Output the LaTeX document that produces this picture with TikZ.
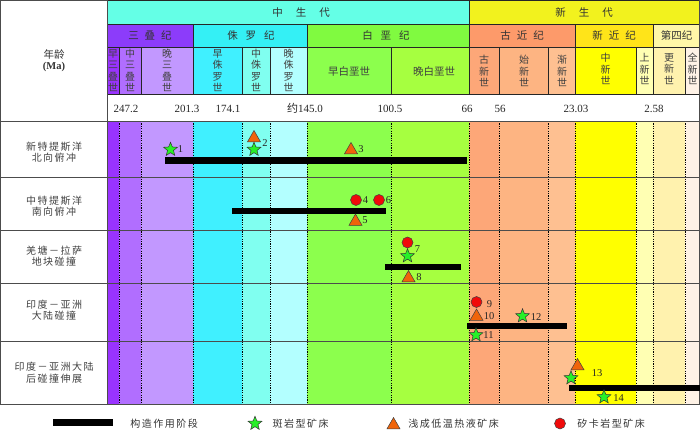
\documentclass[tikz,border=0pt]{standalone}
\usepackage{fontspec}
\setmainfont{Liberation Serif}
\newfontfamily\cjk{Noto Sans CJK SC}
\newfontfamily\cjkls[LetterSpace=15]{Noto Sans CJK SC}
\usetikzlibrary{shapes.geometric}
\definecolor{eraM}{RGB}{100,255,230}
\definecolor{eraC}{RGB}{242,242,30}
\definecolor{perT}{RGB}{140,60,250}
\definecolor{perJ}{RGB}{52,240,245}
\definecolor{perK}{RGB}{128,250,64}
\definecolor{perPg}{RGB}{253,154,106}
\definecolor{perNg}{RGB}{255,228,25}
\definecolor{perQ}{RGB}{255,247,168}
\definecolor{eT1}{RGB}{153,51,255}
\definecolor{eT2}{RGB}{177,110,255}
\definecolor{eT3}{RGB}{194,152,255}
\definecolor{eJ1}{RGB}{64,240,255}
\definecolor{eJ2}{RGB}{128,255,240}
\definecolor{eJ3}{RGB}{179,255,255}
\definecolor{eK1}{RGB}{140,255,77}
\definecolor{eK2}{RGB}{166,255,64}
\definecolor{ePg1}{RGB}{253,167,120}
\definecolor{ePg2}{RGB}{253,180,130}
\definecolor{ePg3}{RGB}{254,192,145}
\definecolor{eN1}{RGB}{255,255,0}
\definecolor{eN2}{RGB}{255,255,179}
\definecolor{eQ1}{RGB}{255,242,174}
\definecolor{eQ2}{RGB}{254,242,230}
\definecolor{stargreen}{RGB}{40,240,40}
\definecolor{triorange}{RGB}{240,100,10}
\definecolor{dotred}{RGB}{240,10,10}
\begin{document}
\begin{tikzpicture}[x=1pt,y=-1pt,
  hdr/.style={draw=black!85, line width=0.8pt},
  rowline/.style={draw=black!70, line width=0.9pt},
  dotline/.style={draw=black, line width=0.5pt, dash pattern=on 1.2pt off 1.2pt},
  eratxt/.style={font=\cjk\fontsize{10.5}{12}\selectfont, inner sep=0pt, text=black!80},
  vtxt/.style={font=\cjk\fontsize{10}{11.3}\selectfont, align=center, inner sep=0pt, text=black!75},
  htxt/.style={font=\cjk\fontsize{10.5}{12}\selectfont, inner sep=0pt, text=black!75},
  num/.style={font=\fontsize{11}{13}\selectfont, inner sep=0pt, text=black!85},
  rowlbl/.style={font=\cjkls\fontsize{10}{11.5}\selectfont, align=center, inner sep=0pt, text=black!75},
  legtxt/.style={font=\cjkls\fontsize{10}{12}\selectfont, inner sep=0pt, text=black!80},
  lbl/.style={font=\fontsize{10.5}{12}\selectfont, inner sep=0pt, text=black!85},
  stary/.style={star, star points=5, star point ratio=2.3, minimum size=14.5pt, inner sep=0pt, draw=black!80, line width=0.5pt, fill=stargreen},
  tri/.style={regular polygon, regular polygon sides=3, minimum size=15pt, inner sep=0pt, draw=black!75, line width=0.5pt, fill=triorange},
  circ/.style={circle, minimum size=11pt, inner sep=0pt, draw=black!75, line width=0.5pt, fill=dotred},
  bar/.style={fill=black}]
\useasboundingbox (0,0) rectangle (700,431);
% body fills and header epoch cells
\foreach \a/\b/\c in {107/119/eT1,119/141/eT2,141/193/eT3,193/242/eJ1,242/270/eJ2,270/307/eJ3,307/391/eK1,391/469/eK2,469/499/ePg1,499/548/ePg2,548/575/ePg3,575/636/eN1,636/653/eN2,653/685/eQ1,685/700/eQ2}{
  \fill[\c] (\a,121) rectangle (\b,404);
  \draw[hdr, fill=\c] (\a,47) rectangle (\b,94);
}
% periods
\draw[hdr, fill=perT] (107,24) rectangle (193,47);
\draw[hdr, fill=perJ] (193,24) rectangle (307,47);
\draw[hdr, fill=perK] (307,24) rectangle (469,47);
\draw[hdr, fill=perPg] (469,24) rectangle (575,47);
\draw[hdr, fill=perNg] (575,24) rectangle (653,47);
\draw[hdr, fill=perQ] (653,24) rectangle (700,47);
% eras
\draw[hdr, fill=eraM] (107,0.5) rectangle (469,24);
\draw[hdr, fill=eraC] (469,0.5) rectangle (699.5,24);
% dotted boundaries
\foreach \x in {119,141,193,242,270,307,391,469,499,548,575,636,653,685}
  \draw[dotline] (\x,121) -- (\x,404);
% frame
\foreach \y in {121,177,230,283,341,404}
  \draw[rowline] (0,\y) -- (700,\y);
\draw[rowline] (0.5,0.5) -- (0.5,404);
\draw[rowline] (107,0) -- (107,404);
\draw[rowline] (0,0.5) -- (107,0.5);
\draw[rowline] (699.5,0) -- (699.5,404);
% header text
\node[eratxt] (era1) at (301,12.5) {中\hspace{13pt}生\hspace{13pt}代};
\node[eratxt] (era2) at (584,12.5) {新\hspace{13pt}生\hspace{13pt}代};
\node[eratxt] (p1) at (150,35.5) {三\hspace{6pt}叠\hspace{6pt}纪};
\node[eratxt] (p2) at (251,35.5) {侏\hspace{8pt}罗\hspace{8pt}纪};
\node[eratxt] (p3) at (386,35.5) {白\hspace{8pt}垩\hspace{8pt}纪};
\node[eratxt] (p4) at (522,35.5) {古\hspace{6pt}近\hspace{6pt}纪};
\node[eratxt] (p5) at (614,35.5) {新\hspace{6pt}近\hspace{6pt}纪};
\node[eratxt] (p6) at (676.5,35.5) {第四纪};
\node[vtxt] (e1) at (113,70.5) {早\\三\\叠\\世};
\node[vtxt] (e2) at (130,70.5) {中\\三\\叠\\世};
\node[vtxt] (e3) at (167,70.5) {晚\\三\\叠\\世};
\node[vtxt] (e4) at (217.5,70.5) {早\\侏\\罗\\世};
\node[vtxt] (e5) at (256,70.5) {中\\侏\\罗\\世};
\node[vtxt] (e6) at (288.5,70.5) {晚\\侏\\罗\\世};
\node[htxt] (e7) at (349,71.5) {早白垩世};
\node[htxt] (e8) at (434,71.5) {晚白垩世};
\node[vtxt] (e9) at (484,71) {古\\新\\世};
\node[vtxt] (e10) at (524,71) {始\\新\\世};
\node[vtxt] (e11) at (562,71) {渐\\新\\世};
\node[vtxt] (e12) at (605.5,69) {中\\新\\世};
\node[vtxt] (e13) at (644.5,69) {上\\新\\世};
\node[vtxt] (e14) at (669,69) {更\\新\\世};
\node[vtxt] (e15) at (692.5,69) {全\\新\\世};
\node[font=\cjk\fontsize{10.5}{12}\selectfont, align=center, inner sep=0pt, text=black!80] (age) at (54,54) {年龄};
\node[font=\bfseries\fontsize{10.5}{12}\selectfont, inner sep=0pt, text=black!80] (ma) at (54,67) {(Ma)};
% age numbers
\node[num] (n1) at (126,108.5) {247.2};
\node[num] (n2) at (187,108.5) {201.3};
\node[num] (n3) at (228,108.5) {174.1};
\node[num] (n4) at (305,108.5) {{\cjk 约}145.0};
\node[num] (n5) at (390,108.5) {100.5};
\node[num] (n6) at (467,108.5) {66};
\node[num] (n7) at (500,108.5) {56};
\node[num] (n8) at (576,108.5) {23.03};
\node[num] (n9) at (654,108.5) {2.58};
% row labels
\node[rowlbl] (r1) at (54,152) {新特提斯洋\\北向俯冲};
\node[rowlbl] (r2) at (54,206) {中特提斯洋\\南向俯冲};
\node[rowlbl] (r3) at (54,256) {羌塘－拉萨\\地块碰撞};
\node[rowlbl] (r4) at (54,310) {印度－亚洲\\大陆碰撞};
\node[rowlbl] (r5) at (54,372.5) {印度－亚洲大陆\\后碰撞伸展};
% bars
\fill[bar] (165,157) rectangle (467,163.5);
\fill[bar] (231.5,207.5) rectangle (385.5,214);
\fill[bar] (385,263.5) rectangle (460.5,269.5);
\fill[bar] (466.5,322.5) rectangle (567,329);
\fill[bar] (569,384.5) rectangle (700,391);
% row 1
\node[stary] (s1) at (170.5,149.5) {};
\node[lbl] (t1) at (180.5,149.5) {1};
\node[tri] (g2) at (254,138) {};
\node[stary] (s2) at (254,149.5) {};
\node[lbl] (t2) at (265,143.5) {2};
\node[tri] (g3) at (351,150) {};
\node[lbl] (t3) at (361,149) {3};
% row 2
\node[circ] (c4) at (356,200) {};
\node[lbl] (t4) at (365.5,200) {4};
\node[circ] (c6) at (379,200) {};
\node[lbl] (t6) at (388.5,200) {6};
\node[tri] (g5) at (355.5,221.5) {};
\node[lbl] (t5) at (365,220.5) {5};
% row 3
\node[circ] (c7) at (407.5,242.5) {};
\node[lbl] (t7) at (417.5,249) {7};
\node[stary] (s7) at (407.5,256) {};
\node[tri] (g8) at (408.5,278) {};
\node[lbl] (t8) at (419,277.5) {8};
% row 4
\node[circ] (c9) at (476.5,302) {};
\node[lbl] (t9) at (489.5,304) {9};
\node[tri] (g10) at (476.5,316.5) {};
\node[lbl] (t10) at (489,316) {10};
\node[stary] (s11) at (476,335) {};
\node[lbl] (t11) at (488.5,335.5) {11};
\node[stary] (s12) at (522.5,316) {};
\node[lbl] (t12) at (536,317.5) {12};
% row 5
\node[tri] (g13) at (577.5,366) {};
\node[lbl] (t13) at (597,373.5) {13};
\node[stary] (s13) at (571,378) {};
\node[stary] (s14) at (604,397) {};
\node[lbl] (t14) at (618.5,398.5) {14};
% legend
\fill[bar] (53,419) rectangle (113,425.5);
\node[legtxt] (l1) at (164,423.5) {构造作用阶段};
\node[stary] (ls) at (255,423.5) {};
\node[legtxt] (l2) at (300.5,423.5) {斑岩型矿床};
\node[tri] (lt) at (393.5,425) {};
\node[legtxt] (l3) at (453.5,423.5) {浅成低温热液矿床};
\node[circ] (lc) at (560,423.5) {};
\node[legtxt] (l4) at (611,423.5) {矽卡岩型矿床};
\end{tikzpicture}
\end{document}
